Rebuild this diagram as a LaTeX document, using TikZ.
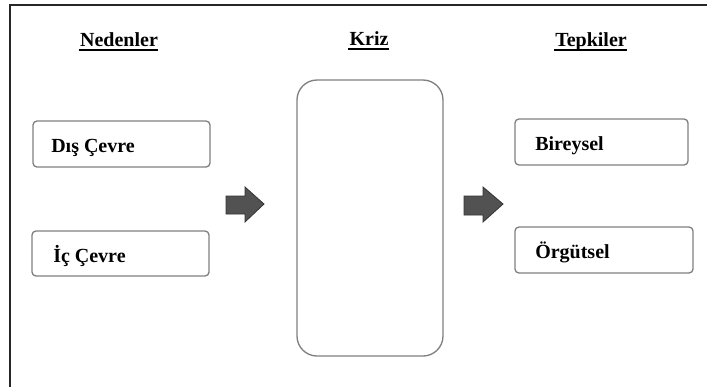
\documentclass[tikz,border=0pt]{standalone}
\usepackage{fontspec}
\setmainfont{Liberation Serif}
\usetikzlibrary{shapes.arrows}
\tikzset{
  px/.style={x=0.75pt,y=-0.75pt},
  heading/.style={font=\fontsize{15}{18}\selectfont\bfseries, inner sep=0pt, anchor=base},
  itembox/.style={draw=black!50, line width=1pt, rounded corners=3pt, fill=white},
  itemtext/.style={font=\fontsize{15}{18}\selectfont\bfseries, inner sep=0pt, anchor=base west},
  bigbox/.style={draw=black!50, line width=1pt, rounded corners=15pt},
  flowarrow/.style={draw=black!80, line width=0.6pt, fill=black!68, line join=miter},
  headline/.style={line width=1.6pt}
}
\begin{document}
\begin{tikzpicture}[px]
\useasboundingbox (0,0) rectangle (707,387);
% outer frame (top and left edges)
\draw[line width=1.4pt, black!85] (10,387) -- (10,5) -- (707,5);

% column headings
\node[heading] (h1) at (119,46) {Nedenler};
\node[heading] (h2) at (369,45) {Kriz};
\node[heading] (h3) at (591,46) {Tepkiler};
\foreach \h in {h1,h2,h3}
  \draw[headline] ([xshift=-1pt,yshift=-3pt]\h.base west) -- ([yshift=-3pt]\h.base east);

% causes
\draw[itembox] (33,121) rectangle (210,167);
\node[itemtext] (dis) at (51,152) {Dış Çevre};
\draw[itembox] (32,231) rectangle (209,276);
\node[itemtext] (ic) at (53,262) {İç Çevre};

% crisis box
\draw[bigbox] (297,80) rectangle (443,356);
\coordinate (kriz) at (370,218);

% responses
\draw[itembox] (515,119) rectangle (688,165);
\node[itemtext] (bir) at (535,150) {Bireysel};
\draw[itembox] (515,227) rectangle (693,273);
\node[itemtext] (org) at (535,258) {Örgütsel};

% block arrows
\draw[flowarrow] (226,196) -- (245,196) -- (245,187) -- (264,204) -- (245,222) -- (245,214) -- (226,214) -- cycle;
\draw[flowarrow] (464,196) -- (483,196) -- (483,187) -- (503,204) -- (483,222) -- (483,215) -- (464,215) -- cycle;
\end{tikzpicture}
\end{document}
